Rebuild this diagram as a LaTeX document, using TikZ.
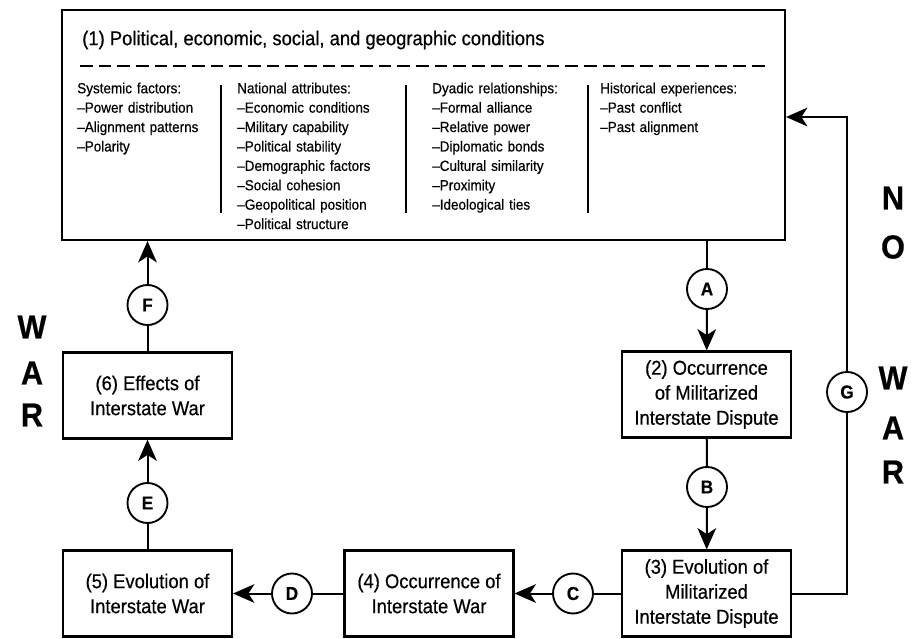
\documentclass[tikz,border=0pt]{standalone}
\usepackage{fontspec}
\setmainfont{Liberation Sans}[FakeStretch=0.92, FakeBold=0.5]
\usetikzlibrary{matrix,arrows.meta,positioning}

\begin{document}
\begin{tikzpicture}[x=0.75pt,y=-0.75pt]

\tikzset{
  stage/.style={draw, line width=1.6pt,
    minimum width=126.75pt, minimum height=64.5pt,
    align=center, inner sep=0pt,
    font=\fontsize{15}{18.75}\selectfont},
  link/.style={draw, circle, line width=1.4pt,
    minimum size=30pt, inner sep=0pt,
    font=\bfseries\fontsize{14}{14}\selectfont},
  flow/.style={line width=1.5pt},
  into/.style={flow, -{Stealth[length=16pt,width=14pt,inset=4.5pt]}},
  bigletter/.style={font=\bfseries\fontsize{25}{25}\selectfont},
  factor list/.style={
    matrix of nodes,
    inner sep=0pt,
    column sep=0pt, row sep=0pt,
    nodes={anchor=center, align=left, inner sep=0pt,
      text height=10.5pt, text depth=4.05pt,
      font=\fontsize{11}{12}\selectfont},
    column 1/.style={nodes={text width=120pt}},
    column 2/.style={nodes={text width=146.25pt}},
    column 3/.style={nodes={text width=126pt}},
    column 4/.style={nodes={text width=112.5pt}}
  }
}

\useasboundingbox (0,0) rectangle (922,639);

% conditions box
\node[draw, line width=1.6pt, minimum width=542.25pt, minimum height=172.5pt,
  inner sep=0pt] (main) at (423.5,125) {};
\node[anchor=west, inner sep=0pt, font=\fontsize{15}{15}\selectfont]
  (title) at (82,40) {(1) Political, economic, social, and geographic conditions};
\draw[line width=1.6pt, dash pattern=on 9.5pt off 4.5pt] (80,66) -- (768,66);

\matrix[factor list, anchor=north west] (factors) at (77,79)
{
Systemic factors: & National attributes: & Dyadic relationships: & Historical experiences: \\
--Power distribution & --Economic conditions & --Formal alliance & --Past conflict \\
--Alignment patterns & --Military capability & --Relative power & --Past alignment \\
--Polarity & --Political stability & --Diplomatic bonds & \\
 & --Demographic factors & --Cultural similarity & \\
 & --Social cohesion & --Proximity & \\
 & --Geopolitical position & --Ideological ties & \\
 & --Political structure & & \\
};

\foreach \sx in {221,406,588}
  \draw[line width=1.5pt] (\sx,85) -- (\sx,213);

% stages
\node[stage] (dispute) at (706.5,394.5) {(2) Occurrence\\of Militarized\\Interstate Dispute};
\node[stage] (evolution) at (706.5,593.5) {(3) Evolution of\\Militarized\\Interstate Dispute};
\node[stage] (occwar) at (429,593.5) {(4) Occurrence of\\Interstate War};
\node[stage] (evowar) at (147.5,593.5) {(5) Evolution of\\Interstate War};
\node[stage] (effects) at (147.5,395.5) {(6) Effects of\\Interstate War};

% links
\node[link] (a) at (707,289) {A};
\node[link] (b) at (707,487) {B};
\node[link] (c) at (573,593.5) {C};
\node[link] (d) at (292,593.5) {D};
\node[link] (e) at (147.5,503) {E};
\node[link] (f) at (147.5,305) {F};
\node[link] (g) at (847,392) {G};
\coordinate (back) at (847,117);

\draw[flow] (main.south -| a) -- (a);
\draw[into] (a) -- (dispute);
\draw[flow] (dispute) -- (b);
\draw[into] (b) -- (evolution);
\draw[flow] (evolution) -- (c);
\draw[into] (c) -- (occwar);
\draw[flow] (occwar) -- (d);
\draw[into] (d) -- (evowar);
\draw[flow] (evowar) -- (e);
\draw[into] (e) -- (effects);
\draw[flow] (effects) -- (f);
\draw[into] (f) -- (main.south -| f);
\draw[flow] (evolution) -- (evolution -| g) -- (g);
\draw[into] (g) -- (back) -- (main.east |- back);

% side labels
\node[bigletter] (lw) at (32,327) {W};
\node[bigletter] (la) at (32,373) {A};
\node[bigletter] (lr) at (32,415) {R};
\node[bigletter] (rn) at (893,198) {N};
\node[bigletter] (ro) at (893,247) {O};
\node[bigletter] (rw) at (893,378) {W};
\node[bigletter] (ra) at (893,428) {A};
\node[bigletter] (rr) at (893,472) {R};

\end{tikzpicture}
\end{document}
